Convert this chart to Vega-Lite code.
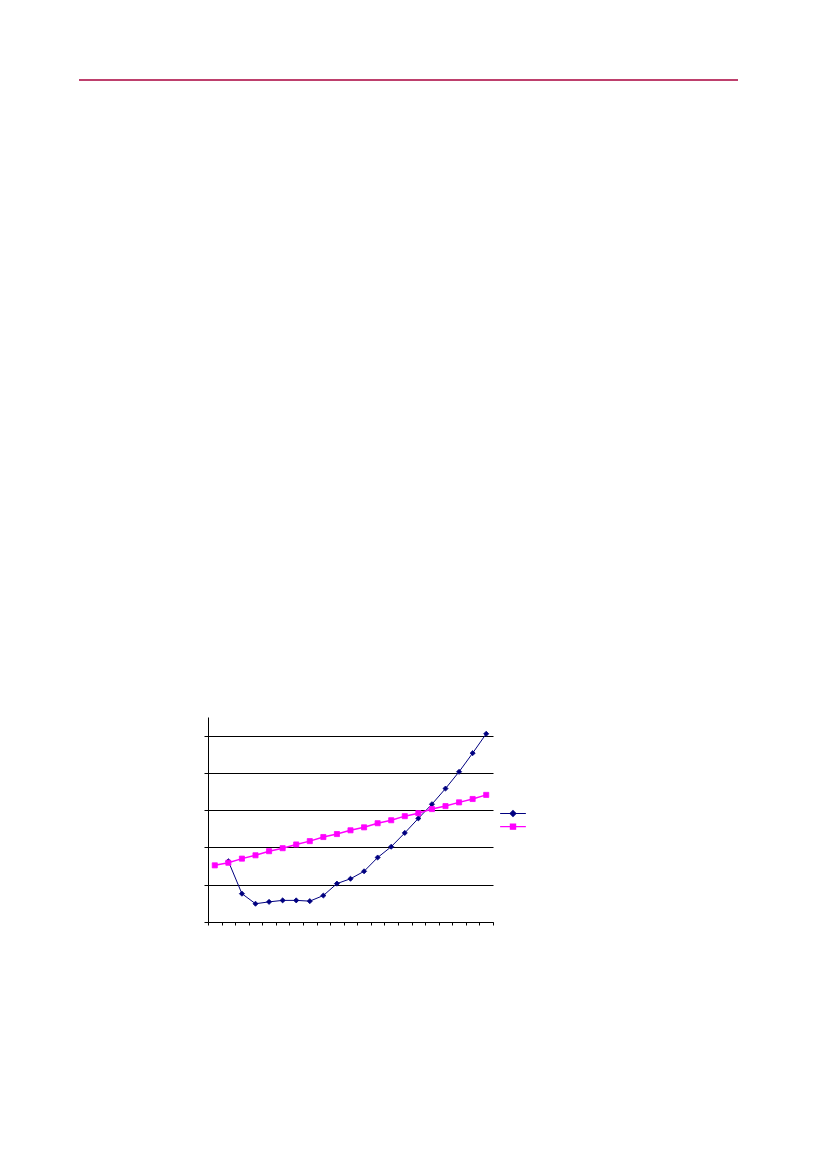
{
  "$schema": "https://vega.github.io/schema/vega-lite/v6.json",
  "background": "white",
  "padding": {"left": 78, "top": 79, "right": 0, "bottom": 0},
  "config": {"view": {"stroke": null}},
  "bounds": "flush",
  "spacing": 637,
  "vconcat": [
    {
      "width": 659,
      "height": 1,
      "data": {"values": [{"start": 0, "end": 1, "level": 0}]},
      "mark": {"type": "rule", "color": "#A8003C", "strokeWidth": 1.3},
      "encoding": {
        "x": {"field": "start", "type": "quantitative", "scale": {"domain": [0, 1]}, "axis": null},
        "x2": {"field": "end"},
        "y": {"field": "level", "type": "quantitative", "scale": {"domain": [0, 1]}, "axis": null}
      }
    },
    {
      "bounds": "flush",
      "spacing": 0,
      "hconcat": [
        {"width": 129, "height": 1, "data": {"values": []}, "mark": "point"},
        {
          "width": 285,
          "height": 205,
          "data": {
            "values": [
              {"cat": 1, "series": "Series2", "value": 1.52},
              {"cat": 2, "series": "Series2", "value": 1.59},
              {"cat": 3, "series": "Series2", "value": 1.70},
              {"cat": 4, "series": "Series2", "value": 1.79},
              {"cat": 5, "series": "Series2", "value": 1.90},
              {"cat": 6, "series": "Series2", "value": 1.98},
              {"cat": 7, "series": "Series2", "value": 2.08},
              {"cat": 8, "series": "Series2", "value": 2.17},
              {"cat": 9, "series": "Series2", "value": 2.28},
              {"cat": 10, "series": "Series2", "value": 2.36},
              {"cat": 11, "series": "Series2", "value": 2.46},
              {"cat": 12, "series": "Series2", "value": 2.54},
              {"cat": 13, "series": "Series2", "value": 2.65},
              {"cat": 14, "series": "Series2", "value": 2.73},
              {"cat": 15, "series": "Series2", "value": 2.84},
              {"cat": 16, "series": "Series2", "value": 2.92},
              {"cat": 17, "series": "Series2", "value": 3.03},
              {"cat": 18, "series": "Series2", "value": 3.11},
              {"cat": 19, "series": "Series2", "value": 3.21},
              {"cat": 20, "series": "Series2", "value": 3.30},
              {"cat": 21, "series": "Series2", "value": 3.41},
              {"cat": 2, "series": "Series1", "value": 1.63},
              {"cat": 3, "series": "Series1", "value": 0.76},
              {"cat": 4, "series": "Series1", "value": 0.49},
              {"cat": 5, "series": "Series1", "value": 0.54},
              {"cat": 6, "series": "Series1", "value": 0.58},
              {"cat": 7, "series": "Series1", "value": 0.58},
              {"cat": 8, "series": "Series1", "value": 0.56},
              {"cat": 9, "series": "Series1", "value": 0.71},
              {"cat": 10, "series": "Series1", "value": 1.03},
              {"cat": 11, "series": "Series1", "value": 1.16},
              {"cat": 12, "series": "Series1", "value": 1.36},
              {"cat": 13, "series": "Series1", "value": 1.73},
              {"cat": 14, "series": "Series1", "value": 2.02},
              {"cat": 15, "series": "Series1", "value": 2.39},
              {"cat": 16, "series": "Series1", "value": 2.78},
              {"cat": 17, "series": "Series1", "value": 3.16},
              {"cat": 18, "series": "Series1", "value": 3.58},
              {"cat": 19, "series": "Series1", "value": 4.03},
              {"cat": 20, "series": "Series1", "value": 4.53},
              {"cat": 21, "series": "Series1", "value": 5.05}
            ]
          },
          "encoding": {
            "x": {
              "field": "cat",
              "type": "quantitative",
              "scale": {"domain": [0.5, 21.5], "nice": false},
              "axis": {
                "title": null,
                "labels": false,
                "grid": false,
                "values": [0.5, 1.5, 2.5, 3.5, 4.5, 5.5, 6.5, 7.5, 8.5, 9.5, 10.5, 11.5, 12.5, 13.5, 14.5, 15.5, 16.5, 17.5, 18.5, 19.5, 20.5, 21.5],
                "tickSize": 3,
                "tickColor": "black",
                "domainColor": "black"
              }
            },
            "y": {
              "field": "value",
              "type": "quantitative",
              "scale": {"domain": [0, 5.5], "nice": false},
              "axis": {
                "title": null,
                "labels": false,
                "values": [0, 1, 2, 3, 4, 5],
                "tickSize": 4,
                "tickColor": "black",
                "domainColor": "black",
                "grid": true,
                "gridColor": "black",
                "gridOpacity": 1
              }
            },
            "color": {
              "field": "series",
              "type": "nominal",
              "scale": {"domain": ["Series1", "Series2"], "range": ["#000080", "#FF00FF"]},
              "legend": {
                "title": null,
                "orient": "none",
                "legendX": 429,
                "legendY": 729.5,
                "padding": 0,
                "symbolSize": 30,
                "symbolStrokeWidth": 1.2,
                "rowPadding": 1.1,
                "labelExpr": "''",
                "labelOffset": 0,
                "encoding": {
                  "symbols": {
                    "shape": {
                      "condition": {"test": "datum.value === 'Series1'", "value": "M-4.7,0H4.7M0,-1.05L1.05,0L0,1.05L-1.05,0Z"},
                      "value": "M-4.7,0H4.7M-0.95,-0.95H0.95V0.95H-0.95Z"
                    },
                    "fill": {
                      "condition": {"test": "datum.value === 'Series1'", "value": "#000080"},
                      "value": "#FF00FF"
                    },
                    "stroke": {
                      "condition": {"test": "datum.value === 'Series1'", "value": "#000080"},
                      "value": "#FF00FF"
                    },
                    "strokeWidth": {"value": 1.2},
                    "opacity": {"value": 1},
                    "size": {"value": 30}
                  }
                }
              }
            }
          },
          "layer": [
            {
              "transform": [{"filter": "datum.series === 'Series1'"}],
              "mark": {"type": "line", "strokeWidth": 1}
            },
            {
              "transform": [{"filter": "datum.series === 'Series1'"}],
              "mark": {"type": "point", "shape": "diamond", "filled": true, "opacity": 1, "size": 26, "stroke": "#000080", "strokeWidth": 0.8}
            },
            {
              "transform": [{"filter": "datum.series === 'Series2'"}],
              "mark": {"type": "line", "strokeWidth": 1.5}
            },
            {
              "transform": [{"filter": "datum.series === 'Series2'"}],
              "mark": {"type": "point", "shape": "square", "filled": true, "opacity": 1, "size": 26, "stroke": "#FF00FF", "strokeWidth": 0.8}
            }
          ]
        }
      ]
    }
  ]
}
